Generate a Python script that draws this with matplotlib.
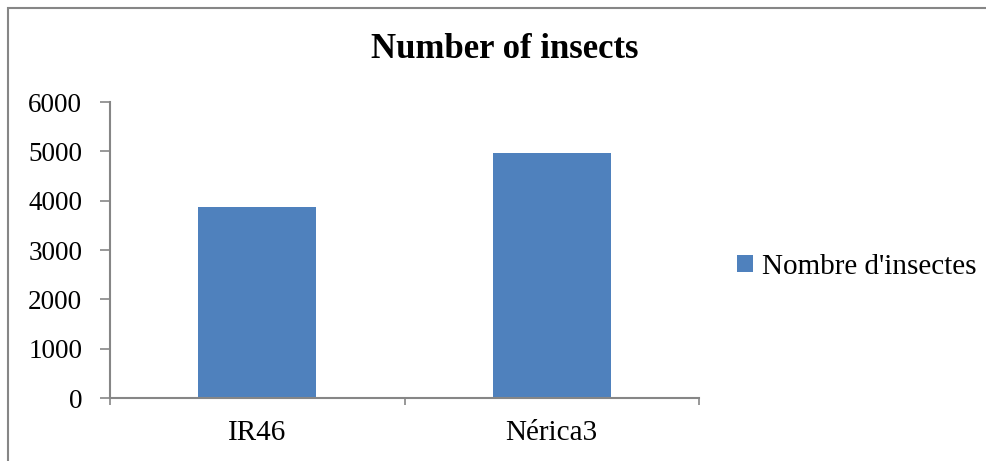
import matplotlib
matplotlib.use("Agg")
import matplotlib.pyplot as plt
from matplotlib.patches import Rectangle

categories = ["IR46", "Nérica3"]
values = [3870, 4960]
series_name = "Nombre d'insectes"
title = "Number of insects"
yticks = [0, 1000, 2000, 3000, 4000, 5000, 6000]

plt.rcParams['font.family'] = ['Liberation Serif', 'DejaVu Serif']

W, H = 987, 461
fig = plt.figure(figsize=(W/100, H/100), dpi=100)
ax = fig.add_axes([110/W, 1-398/H, (699-110)/W, (398-102)/H])

bar_color = "#4F81BD"
axis_color = "#868686"
x = list(range(len(categories)))
ax.bar(x, values, width=0.4, color=bar_color, label=series_name, zorder=2)
ax.set_xlim(-0.5, len(categories)-0.5)
ax.set_ylim(0, 6000)
ax.set_yticks(yticks)
ax.set_yticklabels([str(v) for v in yticks])
ax.set_xticks(x)
ax.set_xticklabels(categories)
ax.set_xticks([-0.5, 0.5, 1.5], minor=True)
ax.tick_params(axis='x', which='major', length=0, pad=15.5, labelsize=21)
ax.tick_params(axis='x', which='minor', length=5, width=1.2, color=axis_color, direction='out')
ax.tick_params(axis='y', length=7, width=1.2, color=axis_color, direction='out', pad=13, labelsize=19.5)
for s in ['top', 'right']:
    ax.spines[s].set_visible(False)
for s in ['left', 'bottom']:
    ax.spines[s].set_color(axis_color)
    ax.spines[s].set_linewidth(1.5)

fig.text(505/W, 1-50/H, title, ha='center', va='center', fontsize=25, fontweight='bold')

leg = fig.legend(loc='center left', bbox_to_anchor=(737/W, 1-267/H), frameon=False,
                 fontsize=21, handlelength=0.55, handleheight=0.55, handletextpad=0.3,
                 borderpad=0, borderaxespad=0)

fig.patches.append(Rectangle((8.5/W, -0.05), 1.1, 1-7.5/H+0.05, transform=fig.transFigure,
                             fill=False, edgecolor=axis_color, linewidth=1.5))

fig.savefig("out.png", dpi=100)
